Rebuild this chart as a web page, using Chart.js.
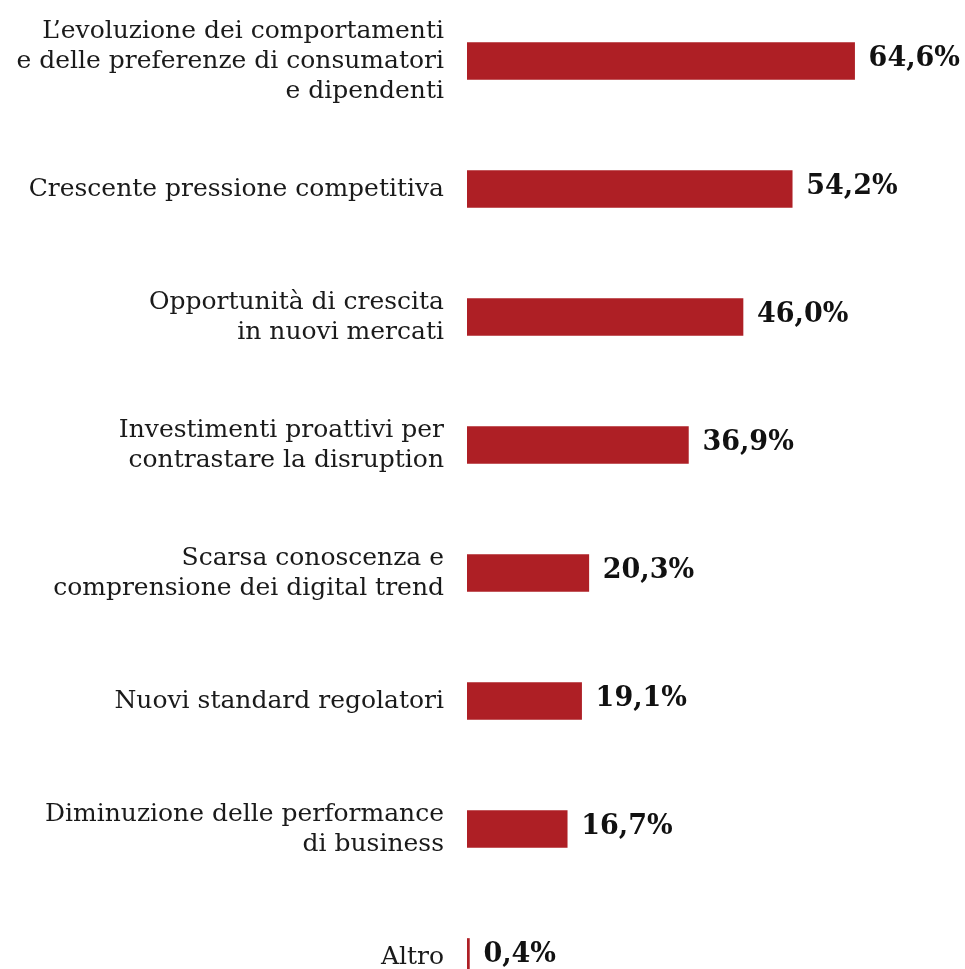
<!DOCTYPE html>
<html>
<head>
<meta charset="utf-8">
<script src="https://cdn.jsdelivr.net/npm/chart.js@4"></script>
<style>
  html, body { margin: 0; background: #fff; height: 969px; overflow: hidden; }
  /* the plot runs a little past the page edges, so the canvas is taller and pulled up */
  #driversChart { display: block; margin-top: -41px; }
</style>
</head>
<body>
<canvas id="driversChart" width="965" height="1130"></canvas>
<script>
const categories = [
    ["L\u2019evoluzione dei comportamenti", "e delle preferenze di consumatori", "e dipendenti"],
    ["Crescente pressione competitiva"],
    ["Opportunità di crescita", "in nuovi mercati"],
    ["Investimenti proattivi per", "contrastare la disruption"],
    ["Scarsa conoscenza e", "comprensione dei digital trend"],
    ["Nuovi standard regolatori"],
    ["Diminuzione delle performance", "di business"],
    ["Altro"],
];
const values = [64.6, 54.2, 46.0, 36.9, 20.3, 19.1, 16.7, 0.4];

const barColor = "#ae1f25";

// writes "64,6%" style labels just past the end of each bar
const valueLabels = {
    id: "valueLabels",
    afterDatasetsDraw(chart) {
        const ctx = chart.ctx;
        const meta = chart.getDatasetMeta(0);
        ctx.save();
        ctx.font = "bold 27px 'DejaVu Serif'";
        ctx.fillStyle = "#111";
        ctx.textAlign = "left";
        ctx.textBaseline = "middle";
        meta.data.forEach((bar, i) => {
            const txt = values[i].toFixed(1).replace(".", ",") + "%";
            ctx.fillText(txt, bar.x + 14, bar.y - 2);
        });
        ctx.restore();
    },
};

new Chart(document.getElementById("driversChart"), {
    type: "bar",
    data: {
        labels: categories,
        datasets: [
            {
                data: values,
                backgroundColor: barColor,
                borderWidth: 0,
                barThickness: 37,
            },
        ],
    },
    options: {
        indexAxis: "y",
        responsive: false,
        animation: false,
        layout: {
            // tick label half-heights plus tick padding set the top/bottom gap (38 / 68)
            padding: { top: 38, right: 18, bottom: 68, left: 0 },
        },
        plugins: {
            legend: { display: false },
            tooltip: { enabled: false },
        },
        scales: {
            x: {
                display: false,
                min: 0,
                max: 80,
            },
            y: {
                grid: { display: false, drawTicks: false },
                border: { display: false },
                ticks: {
                    padding: 23,
                    color: "#1a1a1a",
                    font: { family: "'DejaVu Serif'", size: 25, lineHeight: "30px" },
                },
                afterFit(scale) {
                    scale.width = 467;
                },
            },
        },
    },
    plugins: [valueLabels],
});
</script>
</body>
</html>
